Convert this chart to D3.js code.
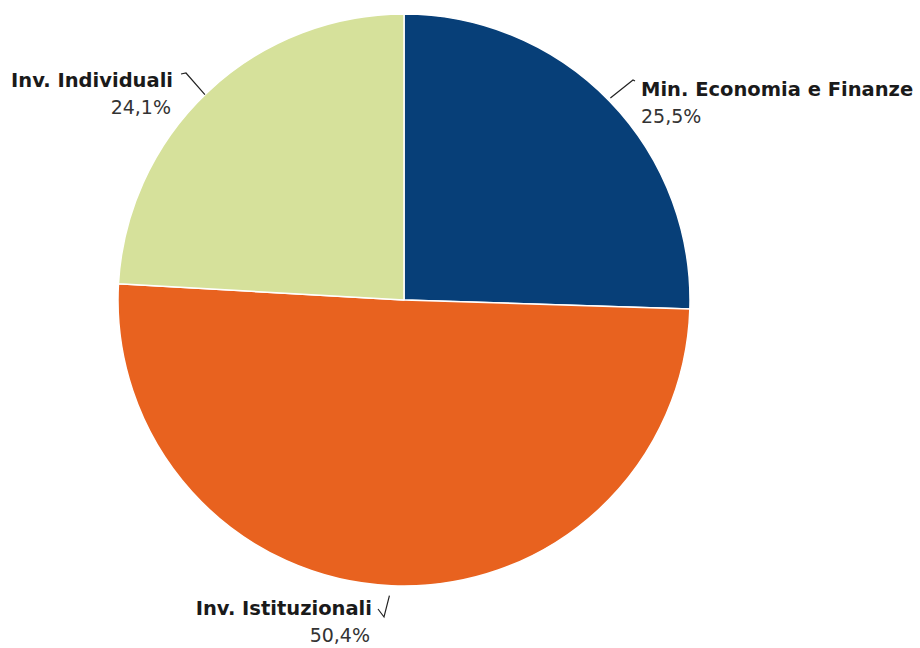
<!DOCTYPE html>
<html lang="en">
<head>
<meta charset="utf-8">
<title>Azionariato</title>
<script src="https://cdn.jsdelivr.net/npm/d3@7"></script>
<style>
  body { margin: 0; background: #fff; }
  svg { display: block; }
</style>
</head>
<body>
<div id="chart"></div>
<script>
  var labels = ["Min. Economia e Finanze", "Inv. Istituzionali", "Inv. Individuali"];
  var values = [25.5, 50.4, 24.1];
  var colors = ["#073f78", "#e8621f", "#d6e19b"];

  var w = 920, h = 648;
  var cx = 404, cy = 300, radius = 286;

  var svg = d3.select("#chart").append("svg")
      .attr("width", w)
      .attr("height", h);

  var pie = d3.pie().sort(null).value(function (d) { return d; });
  var arc = d3.arc().innerRadius(0).outerRadius(radius);
  var arcs = pie(values);

  var g = svg.append("g").attr("transform", "translate(" + cx + "," + cy + ")");

  g.selectAll("path")
      .data(arcs)
      .enter()
      .append("path")
      .attr("d", arc)
      .attr("fill", function (d, i) { return colors[i]; })
      .attr("stroke", "#fff")
      .attr("stroke-width", 1.5)
      .attr("stroke-linejoin", "round");

  // label placement: text anchor point, and the angle where the connector touches the pie
  var labelPos = [
    { x: 641, y: 96, anchor: "start", angle: null },
    { x: 372, y: 615, anchor: "end", angle: null },
    { x: 173, y: 87, anchor: "end", angle: -0.77 }
  ];

  function fmt(v) { return v.toFixed(1).replace(".", ",") + "%"; }

  arcs.forEach(function (d, i) {
    var p = labelPos[i];
    var a = p.angle !== null ? p.angle : (d.startAngle + d.endAngle) / 2;
    var ex = cx + Math.sin(a) * radius;
    var ey = cy - Math.cos(a) * radius;
    var path;
    if (i === 0) {
      path = "M" + (ex + 1) + "," + (ey - 3) + "L" + (p.x - 8) + "," + (p.y - 16) +
             "L" + (p.x - 6) + "," + (p.y - 15);
    } else if (i === 1) {
      // bottom label: small tick then up to the slice edge
      path = "M" + (p.x + 6) + "," + (p.y - 6) + "L" + (p.x + 12) + "," + (p.y + 2) +
             "L" + (ex - 2) + "," + (ey + 10);
    } else {
      path = "M" + ex + "," + ey + "L" + (p.x + 13) + "," + (p.y - 14) +
             "L" + (p.x + 8) + "," + (p.y - 13);
    }
    svg.append("path")
        .attr("d", path)
        .attr("fill", "none")
        .attr("stroke", "#222")
        .attr("stroke-width", 1.2);

    svg.append("text")
        .attr("x", p.x)
        .attr("y", p.y)
        .attr("text-anchor", p.anchor)
        .attr("font-family", "DejaVu Sans, Verdana, sans-serif")
        .attr("font-weight", "bold")
        .attr("font-size", "19.5px")
        .attr("fill", "#1a1a1a")
        .text(labels[i]);

    svg.append("text")
        .attr("x", p.anchor === "start" ? p.x : p.x - 2)
        .attr("y", p.y + 27)
        .attr("text-anchor", p.anchor)
        .attr("font-family", "DejaVu Sans, Verdana, sans-serif")
        .attr("font-size", "19px")
        .attr("fill", "#333")
        .text(fmt(values[i]));
  });
</script>
</body>
</html>
